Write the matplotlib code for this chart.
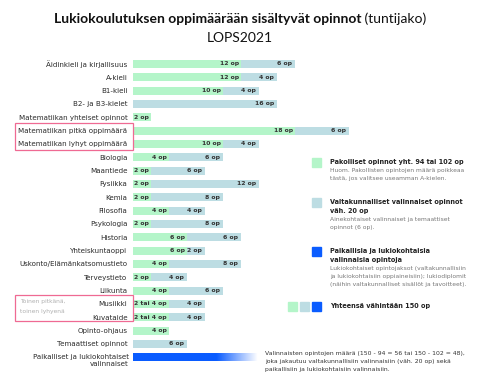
import numpy as np
import matplotlib
matplotlib.use('Agg')
import matplotlib.pyplot as plt
from matplotlib.patches import Rectangle

# data
categories = [
    'Äidinkieli ja kirjallisuus', 'A-kieli', 'B1-kieli', 'B2- ja B3-kielet',
    'Matematiikan yhteiset opinnot', 'Matematiikan pitkä oppimäärä',
    'Matematiikan lyhyt oppimäärä', 'Biologia', 'Maantiede', 'Fysiikka',
    'Kemia', 'Filosofia', 'Psykologia', 'Historia', 'Yhteiskuntaoppi',
    'Uskonto/Elämänkatsomustieto', 'Terveystieto', 'Liikunta', 'Musiikki',
    'Kuvataide', 'Opinto-ohjaus', 'Temaattiset opinnot',
    'Paikalliset ja lukiokohtaiset\nvalinnaiset',
]
pakolliset = [12, 12, 10, 0, 2, 18, 10, 4, 2, 2, 2, 4, 2, 6, 6, 4, 2, 4, 4, 4, 4, 0, 0]
valinnaiset = [6, 4, 4, 16, 0, 6, 4, 6, 6, 12, 8, 4, 8, 6, 2, 8, 4, 6, 4, 4, 0, 6, 0]
pak_labels = {18: '2 tai 4 op', 19: '2 tai 4 op'}
paikalliset_end = 13.8  # gradient bar fades out around here

GREEN = '#b4f5c9'
GREY = '#bddde3'
BLUE = '#0a5cff'
PINK = '#ef6a93'
DARK = '#222222'
SOFT = '#777777'

W, H = 480, 390
fig = plt.figure(figsize=(W / 100, H / 100), dpi=100)


def fx(x):
    return x / W


def fy(y):
    return 1 - y / H


# main bar axes, placed in pixels: x=133 is 0 op, 9 px per op
row0, step = 64, 13.33
n = len(categories)
left_px, right_px = 133, 475
top_px = row0 - step / 2
bot_px = row0 + (n - 0.5) * step
ax = fig.add_axes([fx(left_px), fy(bot_px), (right_px - left_px) / W, (bot_px - top_px) / H])
ax.patch.set_alpha(0)
xmax = (right_px - left_px) / 9

y = np.arange(n)
bh = 0.6
ax.barh(y, pakolliset, height=bh, color=GREEN)
ax.barh(y, valinnaiset, left=pakolliset, height=bh, color=GREY)

for i in range(n):
    p, v = pakolliset[i], valinnaiset[i]
    if p:
        ax.text(p - 0.25, i, pak_labels.get(i, f'{p} op'), ha='right', va='center',
                fontsize=4.4, fontweight='bold', color='#333333')
    if v:
        ax.text(p + v - 0.3, i, f'{v} op', ha='right', va='center',
                fontsize=4.4, fontweight='bold', color='#333333')

# gradient bar for local studies
grad = np.ones((1, 256, 4))
rgb = matplotlib.colors.to_rgb(BLUE)
grad[..., :3] = rgb
t = np.linspace(0, 1, 256)
grad[0, :, 3] = np.clip((1 - t) / 0.33, 0, 1)
ax.imshow(grad, extent=(0, paikalliset_end, n - 1 + bh / 2, n - 1 - bh / 2),
          aspect='auto', interpolation='bilinear')

ax.set_xlim(0, xmax)
ax.set_ylim(n - 0.5, -0.5)
ax.set_yticks(y)
ax.set_yticklabels(categories[:-1] + [''], fontsize=5.1, color='#2a2a2a')
ax.tick_params(axis='y', length=0, pad=4)
ax.set_xticks([])
for s in ax.spines.values():
    s.set_visible(False)
# the two-line label starts level with its bar, like the original
ax.text(-4 / 9, n - 1.27, categories[-1], ha='right', va='top', fontsize=5.1,
        color='#2a2a2a', linespacing=1.35, multialignment='right')

# pink boxes
for y0, y1 in [(123, 150), (295, 321)]:
    fig.patches.append(Rectangle((fx(15), fy(y1)), (133 - 15) / W, (y1 - y0) / H,
                                 transform=fig.transFigure, fill=False,
                                 edgecolor=PINK, linewidth=0.9))
fig.text(fx(20), fy(302), 'Toinen pitkänä,', fontsize=4.3, color='#b0b0b0', va='center')
fig.text(fx(20), fy(312), 'toinen lyhyenä', fontsize=4.3, color='#b0b0b0', va='center')

# title
fig.canvas.draw()
r = fig.canvas.get_renderer()
t1 = fig.text(0, fy(19), 'Lukiokoulutuksen oppimäärään sisältyvät opinnot',
              fontsize=10, fontweight='bold', family='Lato', color='#111111', va='center')
t2 = fig.text(0, fy(19), ' (tuntijako)', fontsize=10, family='Lato', color='#111111', va='center')
w1 = t1.get_window_extent(r).width
w2 = t2.get_window_extent(r).width
x0 = (W - w1 - w2) / 2
t1.set_x(fx(x0))
t2.set_x(fx(x0 + w1))
fig.text(fx(W / 2), fy(38), 'LOPS2021', fontsize=10, family='Lato', color='#111111',
         ha='center', va='center')

# legend
def square(x, yc, color, size=9):
    fig.patches.append(Rectangle((fx(x), fy(yc + size / 2)), size / W, size / H,
                                 transform=fig.transFigure, color=color))


legend = [
    (GREEN, 162, ['Pakolliset opinnot yht. 94 tai 102 op'],
     ['Huom. Pakollisten opintojen määrä poikkeaa', 'tästä, jos valitsee useamman A-kielen.']),
    (GREY, 202, ['Valtakunnalliset valinnaiset opinnot', 'väh. 20 op'],
     ['Ainekohtaiset valinnaiset ja temaattiset', 'opinnot (6 op).']),
    (BLUE, 251, ['Paikallisia ja lukiokohtaisia', 'valinnaisia opintoja'],
     ['Lukiokohtaiset opintojaksot (valtakunnallisiin',
      'ja lukiokohtaisiin oppiaineisiin); lukiodiplomit',
      '(näihin valtakunnalliset sisällöt ja tavoitteet).']),
]
for color, yc, heads, subs in legend:
    square(312, yc, color)
    yy = yc
    for h in heads:
        fig.text(fx(330), fy(yy), h, fontsize=4.7, fontweight='bold', color=DARK, va='center')
        yy += 9
    yy -= 0.5
    for s in subs:
        fig.text(fx(330), fy(yy), s, fontsize=4.3, color=SOFT, va='center')
        yy += 8

square(288, 306, GREEN)
square(300, 306, GREY)
square(312, 306, BLUE)
fig.text(fx(330), fy(306), 'Yhteensä vähintään 150 op', fontsize=4.7, fontweight='bold',
         color=DARK, va='center')

note = ['Valinnaisten opintojen määrä (150 - 94 = 56 tai 150 - 102 = 48),',
        'joka jakautuu valtakunnallisiin valinnaisiin (väh. 20 op) sekä',
        'paikallisiin ja lukiokohtaisiin valinnaisiin.']
for k, s in enumerate(note):
    fig.text(fx(265), fy(354 + 7.5 * k), s, fontsize=4.4, color='#333333', va='center')

fig.savefig('out.png', dpi=100)
